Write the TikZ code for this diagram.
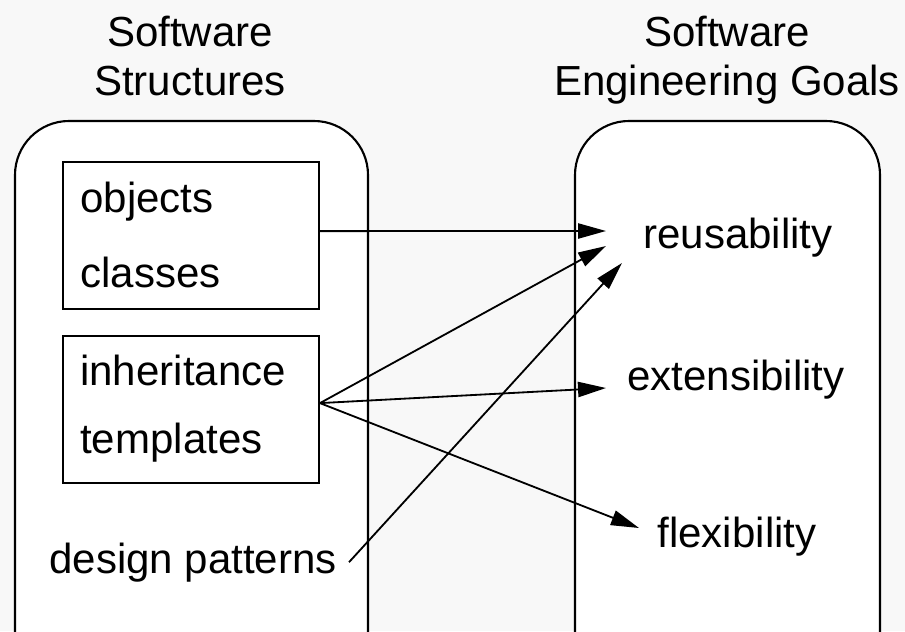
\documentclass[tikz,border=0pt]{standalone}
\usepackage{fontspec}
\setmainfont{Liberation Sans}
\usetikzlibrary{arrows.meta}
\definecolor{bggray}{RGB}{248,248,248}
\tikzset{
  arr/.style = {line width=1.3pt, -{Triangle[length=0.7cm, width=0.38cm]}},
  txt/.style = {inner sep=0, font=\fontsize{29.9}{36}\selectfont},
  frame/.style = {draw, fill=white, line width=1.5pt}
}

\begin{document}
\begin{tikzpicture}[x=0.025cm, y=-0.025cm]

\useasboundingbox (0,0) rectangle (905,631);
\fill[bggray] (0,0) rectangle (905,631);
\begin{scope}
\clip (0,0) rectangle (905,631);
\draw[frame, rounded corners=1.35cm] (15,121) rectangle (368,700);
\draw[frame, rounded corners=1.35cm] (575,121) rectangle (880,700);
\end{scope}

\node[txt, anchor = base] (sw1) at (190,46) {Software};
\node[txt, anchor = base] (struct) at (190,95) {Structures};
\node[txt, anchor = base] (sw2) at (727,46) {Software};
\node[txt, anchor = base] (goals) at (727,95) {Engineering Goals};

\node[frame, line width=1.3pt, inner sep=0, minimum width=6.4cm, minimum height=3.675cm] (box1) at (191,235.5) {};
\node[frame, line width=1.3pt, inner sep=0, minimum width=6.4cm, minimum height=3.675cm] (box2) at (191,409.5) {};

\node[txt, anchor = base west] (objects) at (80,212) {objects};
\node[txt, anchor = base west] (classes) at (80,287) {classes};
\node[txt, anchor = base west] (inherit) at (80,385) {inheritance};
\node[txt, anchor = base west] (templ) at (80,453) {templates};
\node[txt, anchor = base west] (dp) at (49,573) {design patterns};

\node[txt, anchor = base] (reuse) at (738,248) {reusability};
\node[txt, anchor = base] (ext) at (736,390) {extensibility};
\node[txt, anchor = base] (flex) at (737,547) {flexibility};

\coordinate (reuse-a) at (606,231);
\coordinate (reuse-b) at (606,246);
\coordinate (reuse-c) at (622,263);
\coordinate (ext-a) at (606,388);
\coordinate (flex-a) at (639,528);

\draw[arr] ([yshift=0.11cm]box1.east) -- (reuse-a);
\draw[arr] ([yshift=0.16cm]box2.east) -- (reuse-b);
\draw[arr] ([yshift=0.16cm]box2.east) -- (ext-a);
\draw[arr] ([yshift=0.16cm]box2.east) -- (flex-a);
\draw[arr] ([xshift=0.3cm]dp.east) -- (reuse-c);
\end{tikzpicture}
\end{document}
